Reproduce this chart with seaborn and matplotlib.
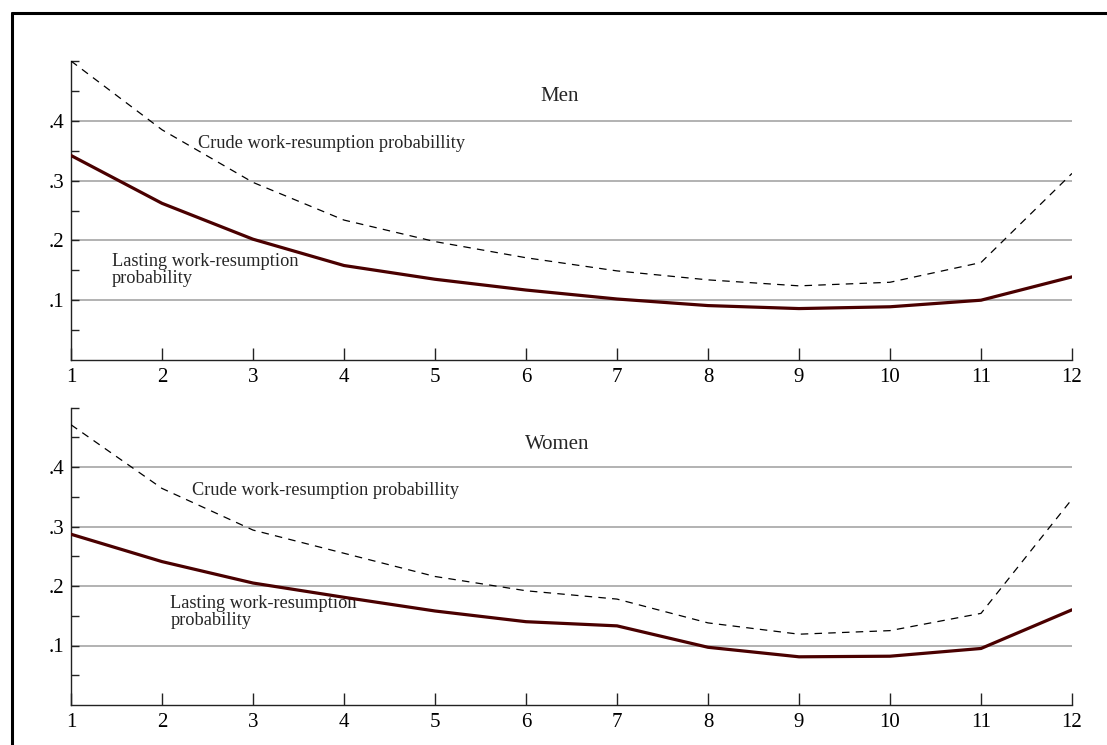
import numpy as np
import pandas as pd
import matplotlib
matplotlib.use("Agg")
import matplotlib.pyplot as plt
from matplotlib.lines import Line2D
import seaborn as sns

months = [1, 2, 3, 4, 5, 6, 7, 8, 9, 10, 11, 12]
men_crude = [0.500, 0.385, 0.297, 0.234, 0.198, 0.171, 0.149, 0.134, 0.124, 0.130, 0.163, 0.312]
men_lasting = [0.342, 0.262, 0.202, 0.158, 0.135, 0.117, 0.102, 0.091, 0.086, 0.089, 0.100, 0.139]
women_crude = [0.471, 0.364, 0.294, 0.255, 0.216, 0.192, 0.178, 0.138, 0.119, 0.125, 0.154, 0.346]
women_lasting = [0.287, 0.241, 0.205, 0.181, 0.158, 0.140, 0.133, 0.097, 0.081, 0.082, 0.095, 0.160]

panel_titles = ["Men", "Women"]
crude_label = "Crude work-resumption probabillity"
lasting_label = "Lasting work-resumption\nprobability"
ytick_values = [0.1, 0.2, 0.3, 0.4]
ytick_labels = [".1", ".2", ".3", ".4"]

sns.set_style("white")
plt.rcParams["font.family"] = ["Liberation Serif", "DejaVu Serif"]

W, H = 1107, 745
fig = plt.figure(figsize=(W / 100, H / 100), dpi=100)

def fx(px):
    return px / W

def fy(py):
    return 1 - py / H

panels = [
    dict(title=panel_titles[0], crude=men_crude, lasting=men_lasting,
         rect=[fx(71), fy(360), fx(1072) - fx(71), fy(61) - fy(360)],
         title_xy=(6.37, 0.44), crude_xy=(2.40, 0.362), lasting_xy=(1.45, 0.150)),
    dict(title=panel_titles[1], crude=women_crude, lasting=women_lasting,
         rect=[fx(71), fy(705), fx(1072) - fx(71), fy(407.5) - fy(705)],
         title_xy=(6.34, 0.437), crude_xy=(2.33, 0.361), lasting_xy=(2.09, 0.157)),
]

grid_color = "#a6a6a6"
axis_color = "#222222"
for p in panels:
    ax = fig.add_axes(p["rect"])
    df = pd.DataFrame({"month": months * 2,
                       "value": p["crude"] + p["lasting"],
                       "series": ["crude"] * 12 + ["lasting"] * 12})
    for y in ytick_values:
        ax.axhline(y, color=grid_color, lw=1.2, zorder=0)
    sns.lineplot(data=df[df.series == "crude"], x="month", y="value", ax=ax,
                 color="black", lw=0.9, linestyle=(0, (6, 5)), legend=False, zorder=3)
    sns.lineplot(data=df[df.series == "lasting"], x="month", y="value", ax=ax,
                 color="#4a0000", lw=2.3, legend=False, zorder=4)
    ax.set_xlim(1, 12)
    ax.set_ylim(0, 0.5)
    ax.set_xlabel("")
    ax.set_ylabel("")
    ax.set_xticks(months)
    ax.set_xticklabels([str(m) for m in months])
    ax.set_yticks(np.arange(0, 0.501, 0.05))
    ax.set_yticklabels(["" if round(v, 2) not in ytick_values else ytick_labels[ytick_values.index(round(v, 2))]
                        for v in np.arange(0, 0.501, 0.05)])
    ax.tick_params(axis="x", direction="in", length=9, width=1, color=axis_color,
                   labelsize=15, pad=6, bottom=True, labelcolor="black")
    ax.tick_params(axis="y", direction="in", length=6, width=1, color=axis_color,
                   labelsize=15, pad=5, left=True, labelcolor="black")
    ax.yaxis.get_major_ticks()[0].tick1line.set_visible(False)
    for s in ["top", "right"]:
        ax.spines[s].set_visible(False)
    for s in ["left", "bottom"]:
        ax.spines[s].set_color(axis_color)
        ax.spines[s].set_linewidth(1)
    ax.patch.set_alpha(0)
    ax.text(*p["title_xy"], p["title"], ha="center", va="center", fontsize=15)
    ax.text(*p["crude_xy"], crude_label, ha="left", va="center", fontsize=13.2)
    ax.text(*p["lasting_xy"], lasting_label, ha="left", va="center", fontsize=13.2,
            linespacing=1.0)

fig.add_artist(Line2D([fx(12), fx(12)], [fy(13), 0], color="black", lw=2.2,
                      transform=fig.transFigure))
fig.add_artist(Line2D([fx(12), 1], [fy(13), fy(13)], color="black", lw=2.2,
                      transform=fig.transFigure))

fig.savefig("out.png", dpi=100)
